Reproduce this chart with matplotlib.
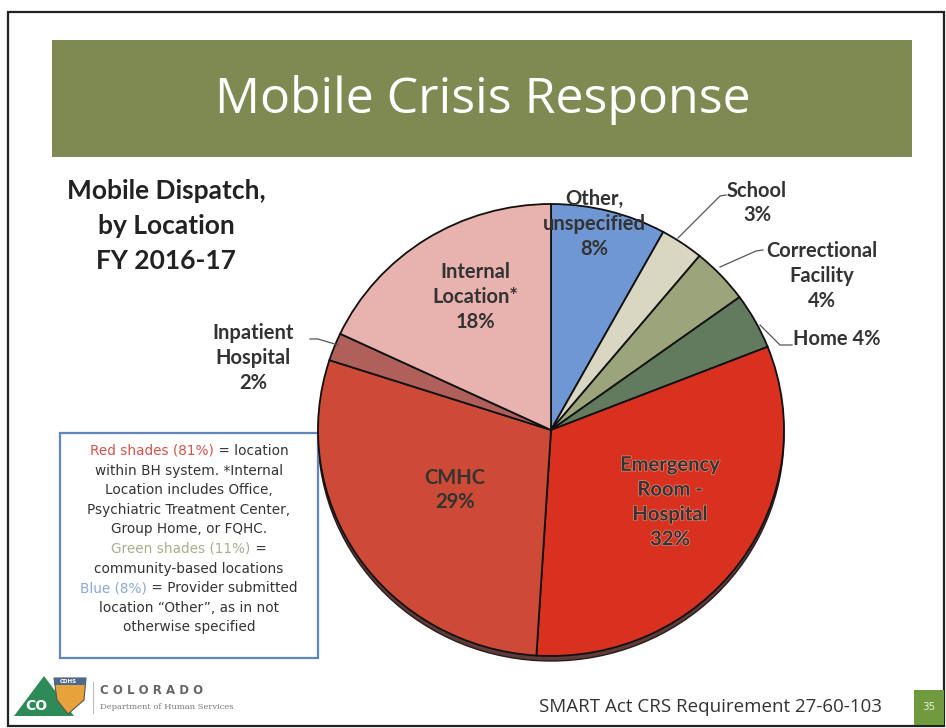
import matplotlib
matplotlib.use('Agg')
import matplotlib.pyplot as plt
import matplotlib.patches as mpatches
import matplotlib.patheffects as pe

W, H = 946, 728

# slice data, clockwise from 12 o'clock
locations = ['Other, unspecified', 'School', 'Correctional Facility', 'Home',
             'Emergency Room - Hospital', 'CMHC', 'Inpatient Hospital', 'Internal Location*']
shares = [8, 3, 4, 4, 32, 29, 2, 18]
slice_colors = ['#6f97d3', '#d9d6c1', '#9ca47c', '#627a5d',
                '#d8311f', '#cd4a36', '#b0605a', '#e8b3ae']

title = 'Mobile Crisis Response'
subtitle = ['Mobile Dispatch,', 'by Location', 'FY 2016-17']
footer = 'SMART Act CRS Requirement 27-60-103'
page_no = '35'

note_lines = [
    [('Red shades (81%)', '#d0544c'), (' = location', '#333333')],
    [('within BH system. *Internal', '#333333')],
    [('Location includes Office,', '#333333')],
    [('Psychiatric Treatment Center,', '#333333')],
    [('Group Home, or FQHC.', '#333333')],
    [('Green shades (11%)', '#a9ae8c'), (' =', '#333333')],
    [('community-based locations', '#333333')],
    [('Blue (8%)', '#8ea8d2'), (' = Provider submitted', '#333333')],
    [('location \u201cOther\u201d, as in not', '#333333')],
    [('otherwise specified', '#333333')],
]

fig = plt.figure(figsize=(W / 100, H / 100), dpi=100)
fig.patch.set_facecolor('white')
ax = fig.add_axes([0, 0, 1, 1])
ax.set_xlim(0, W)
ax.set_ylim(H, 0)
ax.axis('off')

# slide frame
ax.add_patch(mpatches.Rectangle((8, 12), 936, 714, fill=False, ec='#222222', lw=1.6))

# title banner
ax.add_patch(mpatches.Rectangle((52, 40), 860, 117, fc='#7e8a51', ec='none'))
ax.text(483, 100, title, ha='center', va='center', color='white',
        fontsize=36, family='Open Sans')

for i, line in enumerate(subtitle):
    ax.text(166, 191 + i * 35, line, ha='center', va='center', color='#222222',
            fontsize=19, fontweight='bold', family='Lato')

# pie: centre and radii in pixels
cx, cy, rx, ry = 551, 430, 233, 226
rim = mpatches.Ellipse((cx, cy + 5), 2 * rx, 2 * ry, fc='#5e3c3a', ec='#2a1a1a', lw=1)
ax.add_patch(rim)

pax = fig.add_axes([(cx - rx) / W, 1 - (cy + ry) / H, 2 * rx / W, 2 * ry / H])
pax.pie(shares, colors=slice_colors, startangle=90, counterclock=False, frame=True,
        wedgeprops=dict(edgecolor='#111111', linewidth=1.3))
pax.set_xlim(-1, 1)
pax.set_ylim(-1, 1)
pax.set_aspect('auto')
pax.axis('off')

# labels drawn on top of the pie
top = fig.add_axes([0, 0, 1, 1])
top.set_xlim(0, W)
top.set_ylim(H, 0)
top.axis('off')
top.patch.set_alpha(0)

lab = dict(ha='center', va='center', fontsize=14.5, fontweight='bold',
           family='Lato', color='#333333', linespacing=1.3)
top.text(594, 224, 'Other,\nunspecified\n8%', **lab)
top.text(757, 203, 'School\n3%', **lab)
top.text(822, 276, 'Correctional\nFacility\n4%', **lab)
top.text(837, 339, 'Home 4%', **lab)
top.text(475, 297, 'Internal\nLocation*\n18%', **lab)
top.text(253, 358, 'Inpatient\nHospital\n2%', **lab)
top.text(455, 490, 'CMHC\n29%', **lab)
er = top.text(670, 502, 'Emergency\nRoom -\nHospital\n32%', **lab)
er.set_path_effects([pe.withStroke(linewidth=1.0, foreground='#e98878')])

# leader lines
lead = dict(color='#555555', lw=0.9)
top.plot([726, 720, 678], [195, 196, 238], **lead)
top.plot([763, 756, 720], [250, 251, 267], **lead)
top.plot([792, 780, 760], [345, 345, 325], **lead)
top.plot([310, 318, 338], [339, 339, 345], **lead)

# note box with coloured phrases
ax.add_patch(mpatches.Rectangle((60, 433), 258, 225, fc='white', ec='#5f86bf', lw=1.6))
fig.canvas.draw()
renderer = fig.canvas.get_renderer()
note_font = dict(fontsize=9.8, family='DejaVu Sans', va='center', ha='left')
for i, parts in enumerate(note_lines):
    y = 451 + i * 19.6
    texts = [ax.text(0, y, s, color=c, **note_font) for s, c in parts]
    widths = [t.get_window_extent(renderer).width for t in texts]
    x = 189 - sum(widths) / 2
    for t, w in zip(texts, widths):
        t.set_x(x)
        x += w

# footer: logo
ax.add_patch(mpatches.Polygon([(14, 716), (44, 676), (74, 716)], fc='#2e8b57', ec='none'))
ax.add_patch(mpatches.Polygon([(54, 678), (86, 678), (84, 700), (68, 714), (57, 700)],
                              fc='#e8a23c', ec='#555555', lw=0.8))
ax.add_patch(mpatches.Rectangle((54, 678), 32, 7, fc='#4a6a8c', ec='none'))
ax.text(60, 681.5, 'CDHS', color='white', fontsize=4, fontweight='bold', va='center')
ax.text(36, 706, 'CO', color='white', fontsize=10, fontweight='bold', va='center', ha='center')
ax.plot([93, 93], [682, 713], color='#bbbbbb', lw=0.8)
ax.text(100, 690, 'C O L O R A D O', color='#666666', fontsize=8.5, fontweight='bold',
        va='center', family='DejaVu Sans')
ax.text(100, 707, 'Department of Human Services', color='#777777', fontsize=6,
        va='center', family='DejaVu Serif')

ax.text(710, 707, footer, ha='center', va='center', color='#333333',
        fontsize=13.5, family='Open Sans')
ax.add_patch(mpatches.Rectangle((914, 690), 30, 35, fc='#6f9a3e', ec='none'))
ax.text(929, 707, page_no, ha='center', va='center', color='#e8f0d0', fontsize=7.5)

fig.savefig('out.png', dpi=100)
